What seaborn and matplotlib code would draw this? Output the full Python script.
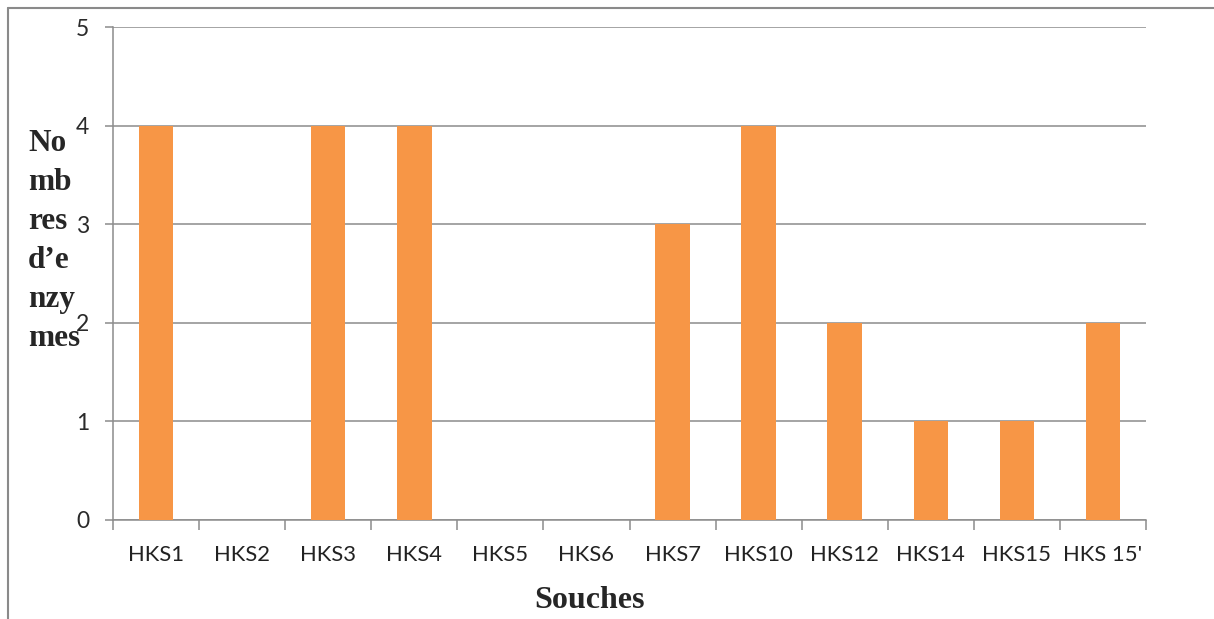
import numpy as np
import pandas as pd
import matplotlib
matplotlib.use("Agg")
import matplotlib.pyplot as plt
import seaborn as sns
from matplotlib.lines import Line2D

souches = ["HKS1", "HKS2", "HKS3", "HKS4", "HKS5", "HKS6", "HKS7",
           "HKS10", "HKS12", "HKS14", "HKS15", "HKS 15'"]
nombres = [4, 0, 4, 4, 0, 0, 3, 4, 2, 1, 1, 2]
y_ticks = [0, 1, 2, 3, 4, 5]

df = pd.DataFrame({"Souche": souches, "Nombre": nombres})

sns.set_style("white")
plt.rcParams["font.family"] = ["Lato", "DejaVu Sans"]

fig = plt.figure(figsize=(12.14, 6.19), dpi=100)
ax = fig.add_axes([113 / 1214, 1 - 520 / 619, (1146 - 113) / 1214, (520 - 27) / 619])

sns.barplot(data=df, x="Souche", y="Nombre", color="#F79646", width=0.4,
            saturation=1, linewidth=0, ax=ax, zorder=3)

ax.set_ylim(0, 5)
ax.set_xlim(-0.5, len(souches) - 0.5)
ax.set_yticks(y_ticks)
ax.yaxis.grid(True, color="#8c8c8c", linewidth=1.1, zorder=0)
ax.set_axisbelow(True)

for s in ["top", "right"]:
    ax.spines[s].set_visible(False)
for s in ["left", "bottom"]:
    ax.spines[s].set_color("#8c8c8c")
    ax.spines[s].set_linewidth(1.1)

ax.tick_params(axis="y", length=6, width=1.1, color="#8c8c8c", pad=11,
               labelsize=16.5, labelcolor="#2a2a2a", left=True)
ax.tick_params(axis="x", which="major", length=0, pad=18,
               labelsize=15.8, labelcolor="#222222")
ax.set_xticks(np.arange(-0.5, len(souches), 1), minor=True)
ax.tick_params(axis="x", which="minor", length=7, width=1.1,
               color="#8c8c8c", bottom=True)

ax.set_xlabel("")
ax.set_ylabel("")

fig.text(590 / 1214, 1 - 600 / 619, "Souches", family="Liberation Serif",
         fontweight="bold", fontsize=23, ha="center", va="center")
fig.text(28 / 1214, 1 - 241 / 619, "No\nmb\nres\nd\u2019e\nnzy\nmes",
         family="Liberation Serif", fontweight="bold", fontsize=22.5,
         ha="left", va="center", linespacing=1.46)

# outer frame of the original chart object
fig.add_artist(Line2D([8 / 1214, 8 / 1214], [0, 1 - 8 / 619],
                      color="#8a8a8a", linewidth=1.5))
fig.add_artist(Line2D([8 / 1214, 1], [1 - 8 / 619, 1 - 8 / 619],
                      color="#8a8a8a", linewidth=1.5))

fig.savefig("out.png", dpi=100)
